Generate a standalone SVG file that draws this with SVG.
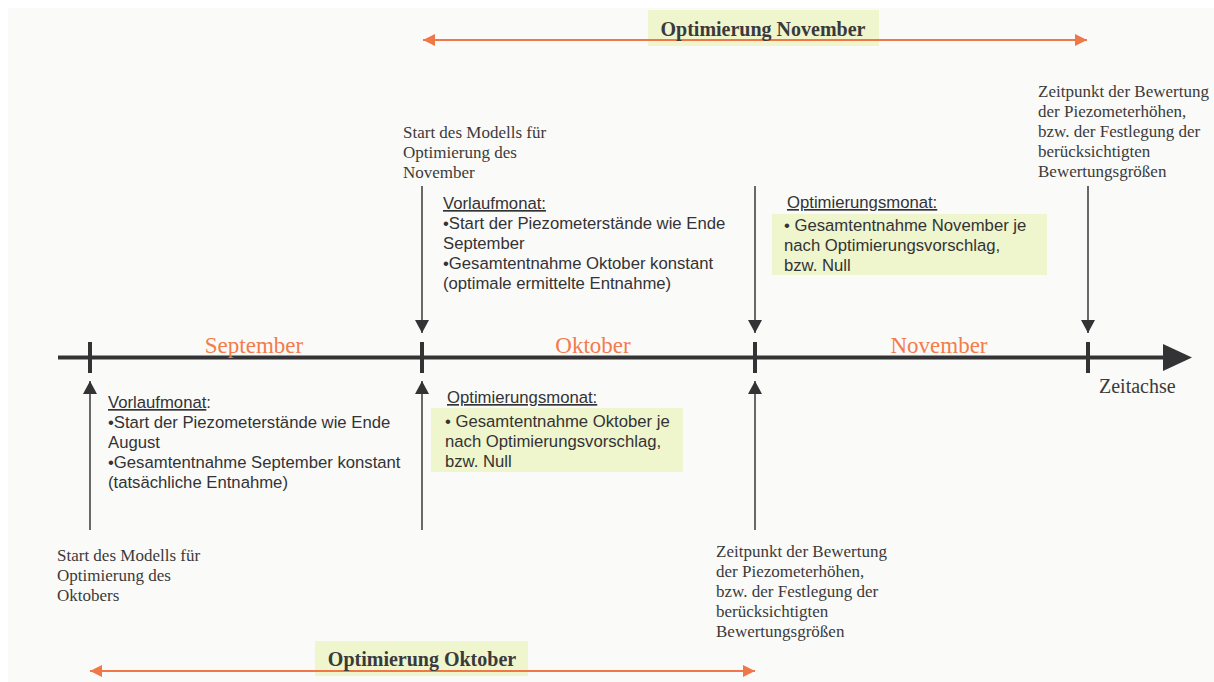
<svg xmlns="http://www.w3.org/2000/svg" width="1214" height="682" viewBox="0 0 1214 682">
  <defs>
    <style>
      .serif { font-family: "Liberation Serif", "Times New Roman", serif; fill: #3a3a3c; }
      .note { font-size: 17px; }
      .sans { font-family: "Liberation Sans", Arial, sans-serif; fill: #333335; font-size: 16.7px; }
      .month { font-family: "Liberation Serif", "Times New Roman", serif; fill: #f37c4c; font-size: 23px; text-anchor: middle; }
      .span-title { font-family: "Liberation Serif", "Times New Roman", serif; font-weight: bold; fill: #3a3a3c; font-size: 20px; text-anchor: middle; }
      .hl { fill: #eff5cc; }
      .pointer { stroke: #444446; stroke-width: 1.6; fill: none; }
      .tick { stroke: #333335; stroke-width: 4; }
      .span { stroke: #f07848; stroke-width: 2; fill: none; }
    </style>
    <marker id="ptr" markerUnits="userSpaceOnUse" markerWidth="14" markerHeight="14" viewBox="0 0 14 14" refX="13" refY="7" orient="auto">
      <path d="M0,0 L13,7 L0,14 Z" fill="#333335"/>
    </marker>
    <marker id="spanEnd" markerUnits="userSpaceOnUse" markerWidth="13" markerHeight="12" viewBox="0 0 13 12" refX="12" refY="6" orient="auto-start-reverse">
      <path d="M0,0 L12,6 L0,12 Z" fill="#f07848"/>
    </marker>
  </defs>

  <!-- sheet -->
  <rect x="8" y="8" width="1206" height="674" fill="#fafaf8"/>

  <!-- time axis -->
  <g id="axis">
    <line x1="58" y1="357.5" x2="1166" y2="357.5" stroke="#333335" stroke-width="4"/>
    <path d="M1163,344 L1192,357.5 L1163,371 Z" fill="#333335"/>
    <line class="tick" x1="90" y1="342" x2="90" y2="373"/>
    <line class="tick" x1="422" y1="342" x2="422" y2="373"/>
    <line class="tick" x1="755" y1="342" x2="755" y2="373"/>
    <line class="tick" x1="1088" y1="342" x2="1088" y2="373"/>
    <text class="month" x="254" y="353">September</text>
    <text class="month" x="593" y="353">Oktober</text>
    <text class="month" x="939" y="353">November</text>
    <text class="serif" x="1099" y="393" font-size="20">Zeitachse</text>
  </g>

  <!-- pointers to the axis -->
  <g id="connectors">
    <line class="pointer" x1="422" y1="186" x2="422" y2="333" marker-end="url(#ptr)"/>
    <line class="pointer" x1="755" y1="186" x2="755" y2="333" marker-end="url(#ptr)"/>
    <line class="pointer" x1="1088" y1="186" x2="1088" y2="333" marker-end="url(#ptr)"/>
    <line class="pointer" x1="90" y1="530" x2="90" y2="381" marker-end="url(#ptr)"/>
    <line class="pointer" x1="422" y1="530" x2="422" y2="381" marker-end="url(#ptr)"/>
    <line class="pointer" x1="755" y1="530" x2="755" y2="381" marker-end="url(#ptr)"/>
  </g>

  <!-- optimisation spans -->
  <g id="span-november">
    <rect class="hl" x="648" y="10" width="231" height="36"/>
    <line class="span" x1="423" y1="40" x2="1087" y2="40" marker-start="url(#spanEnd)" marker-end="url(#spanEnd)"/>
    <text class="span-title" x="763" y="36">Optimierung November</text>
  </g>
  <g id="span-oktober">
    <rect class="hl" x="315" y="641" width="213" height="35"/>
    <line class="span" x1="90" y1="671" x2="755" y2="671" marker-start="url(#spanEnd)" marker-end="url(#spanEnd)"/>
    <text class="span-title" x="422" y="666">Optimierung Oktober</text>
  </g>

  <!-- notes above the axis -->
  <g id="start-november">
    <text class="serif note" x="403" y="138">Start des Modells für</text>
    <text class="serif note" x="403" y="158">Optimierung des</text>
    <text class="serif note" x="403" y="178">November</text>
  </g>
  <g id="vorlauf-oktober">
    <text class="sans" x="443" y="209" text-decoration="underline">Vorlaufmonat:</text>
    <text class="sans" x="443" y="229">•Start der Piezometerstände wie Ende</text>
    <text class="sans" x="443" y="249">September</text>
    <text class="sans" x="443" y="269">•Gesamtentnahme Oktober konstant</text>
    <text class="sans" x="443" y="289">(optimale ermittelte Entnahme)</text>
  </g>
  <g id="opt-november">
    <text class="sans" x="787" y="208" text-decoration="underline">Optimierungsmonat:</text>
    <rect class="hl" x="772" y="214" width="275" height="61"/>
    <text class="sans" x="784" y="231">• Gesamtentnahme November je</text>
    <text class="sans" x="784" y="251">nach Optimierungsvorschlag,</text>
    <text class="sans" x="784" y="271">bzw. Null</text>
  </g>
  <g id="bewertung-november">
    <text class="serif note" x="1038" y="97">Zeitpunkt der Bewertung</text>
    <text class="serif note" x="1038" y="117">der Piezometerhöhen,</text>
    <text class="serif note" x="1038" y="137">bzw. der Festlegung der</text>
    <text class="serif note" x="1038" y="157">berücksichtigten</text>
    <text class="serif note" x="1038" y="177">Bewertungsgrößen</text>
  </g>

  <!-- notes below the axis -->
  <g id="vorlauf-september">
    <text class="sans" x="108" y="408"><tspan text-decoration="underline">Vorlaufmonat</tspan>:</text>
    <text class="sans" x="108" y="428">•Start der Piezometerstände wie Ende</text>
    <text class="sans" x="108" y="448">August</text>
    <text class="sans" x="108" y="468">•Gesamtentnahme September konstant</text>
    <text class="sans" x="108" y="488">(tatsächliche Entnahme)</text>
  </g>
  <g id="opt-oktober">
    <text class="sans" x="447" y="403" text-decoration="underline">Optimierungsmonat:</text>
    <rect class="hl" x="431" y="408" width="252" height="64"/>
    <text class="sans" x="445" y="427">• Gesamtentnahme Oktober je</text>
    <text class="sans" x="445" y="447">nach Optimierungsvorschlag,</text>
    <text class="sans" x="445" y="467">bzw. Null</text>
  </g>
  <g id="start-oktober">
    <text class="serif note" x="57" y="561">Start des Modells für</text>
    <text class="serif note" x="57" y="581">Optimierung des</text>
    <text class="serif note" x="57" y="601">Oktobers</text>
  </g>
  <g id="bewertung-oktober">
    <text class="serif note" x="716" y="557">Zeitpunkt der Bewertung</text>
    <text class="serif note" x="716" y="577">der Piezometerhöhen,</text>
    <text class="serif note" x="716" y="597">bzw. der Festlegung der</text>
    <text class="serif note" x="716" y="617">berücksichtigten</text>
    <text class="serif note" x="716" y="637">Bewertungsgrößen</text>
  </g>
</svg>
